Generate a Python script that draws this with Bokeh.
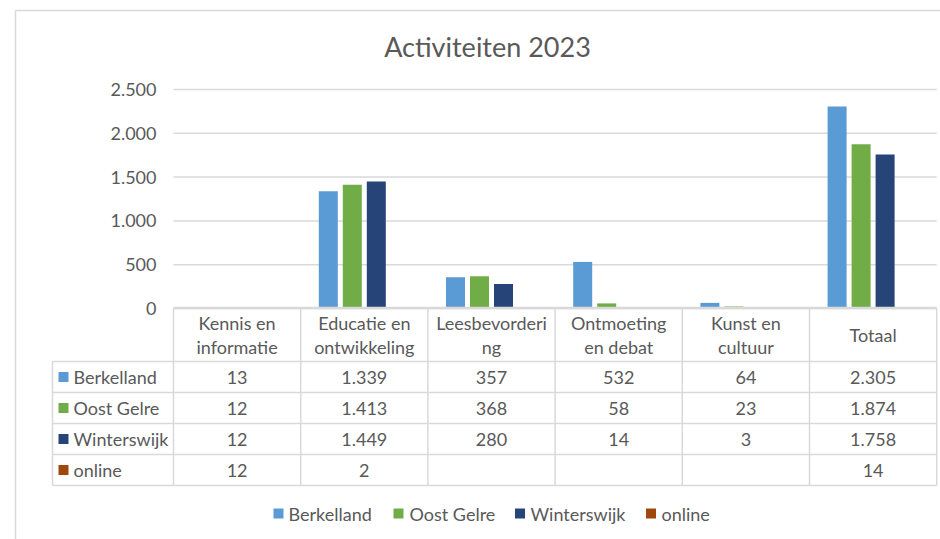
import math
from bokeh.plotting import figure
from bokeh.models import Range1d
from bokeh.embed import file_html
from bokeh.resources import INLINE
from bokeh.core.properties import value

# ---------------- data ----------------
title = "Activiteiten 2023"
categories = ["Kennis en informatie", "Educatie en ontwikkeling", "Leesbevordering",
              "Ontmoeting en debat", "Kunst en cultuur", "Totaal"]
header_labels = ["Kennis en\ninformatie", "Educatie en\nontwikkeling", "Leesbevorderi\nng",
                 "Ontmoeting\nen debat", "Kunst en\ncultuur", "Totaal"]
series_names = ["Berkelland", "Oost Gelre", "Winterswijk", "online"]
berkelland = [13, 1339, 357, 532, 64, 2305]
oost_gelre = [12, 1413, 368, 58, 23, 1874]
winterswijk = [12, 1449, 280, 14, 3, 1758]
online = [12, 2, None, None, None, 14]
y_ticks = [0, 500, 1000, 1500, 2000, 2500]
colors = ["#5B9BD5", "#70AD47", "#264478", "#9E480E"]

series_values = [berkelland, oost_gelre, winterswijk, online]

# ---------------- layout ----------------
W, H = 940, 539
M = 0                     # canvas offset on the page
PX0 = 173                 # page x of the first category boundary
SX = 127.2                # pixels per category
Y0 = 308                  # page y of value 0
KY = 219.0 / 2500.0       # pixels per unit
TEXT = "#595959"
GRID = "#D9D9D9"
FONT = value("Lato")

def nl(v):
    return f"{v:,}".replace(",", ".")

p = figure(width=W, height=H,
           x_range=Range1d((M - PX0) / SX, (M + W - PX0) / SX),
           y_range=Range1d(-(M + H - Y0) / KY, (Y0 - M) / KY),
           x_axis_location=None, y_axis_location=None,
           toolbar_location=None, output_backend="svg",
           min_border=0, outline_line_color=None)
p.grid.visible = False
p.background_fill_color = "white"
p.border_fill_color = "white"
p.extra_x_ranges = {"px": Range1d(M, M + W)}
p.extra_y_ranges = {"px": Range1d(M + H, M)}

ncat = len(categories)

# chart area border
p.segment(x0=[15, 15], y0=[10, 10], x1=[M + W, 15], y1=[10, M + H],
          x_range_name="px", y_range_name="px", line_color=GRID, line_width=1.5)

# title
p.text(x=[487], y=[46], text=[title], x_range_name="px", y_range_name="px",
       text_font=FONT, text_font_size="27px", text_color=TEXT,
       text_align="center", text_baseline="middle")

# gridlines
p.segment(x0=[0] * len(y_ticks), x1=[ncat] * len(y_ticks), y0=y_ticks, y1=y_ticks,
          line_color=GRID, line_width=1.5)

# y tick labels
p.text(x=[156] * len(y_ticks), y=y_ticks, text=[nl(t) for t in y_ticks],
       x_range_name="px", text_font=FONT, text_font_size="18px", text_color=TEXT,
       text_align="right", text_baseline="middle")

# bars
pitch = 24 / SX
bw = 19 / SX
nser = len(series_values)
for j, (vals, col) in enumerate(zip(series_values, colors)):
    off = (j - (nser - 1) / 2) * pitch
    xs = [i + 0.5 + off for i in range(ncat)]
    tops = [v if v is not None else math.nan for v in vals]
    p.vbar(x=xs, top=tops, bottom=0, width=bw, fill_color=col, line_color=None)

# data table
row_edges = [361, 392, 423, 454, 485]
row_centers = [(a + b) / 2 for a, b in zip(row_edges[:-1], row_edges[1:])]
xL = (52 - PX0) / SX

# vertical lines
p.segment(x0=list(range(ncat + 1)), x1=list(range(ncat + 1)),
          y0=[Y0] * (ncat + 1), y1=[row_edges[-1]] * (ncat + 1),
          y_range_name="px", line_color=GRID, line_width=1.5)
p.segment(x0=[xL], x1=[xL], y0=[row_edges[0]], y1=[row_edges[-1]],
          y_range_name="px", line_color=GRID, line_width=1.5)
# horizontal lines
p.segment(x0=[xL] * len(row_edges), x1=[ncat] * len(row_edges),
          y0=row_edges, y1=row_edges, y_range_name="px", line_color=GRID, line_width=1.5)
p.segment(x0=[0], x1=[ncat], y0=[Y0 - 0.5], y1=[Y0 - 0.5], y_range_name="px",
          line_color=GRID, line_width=2.5)

# header
p.text(x=[i + 0.5 for i in range(ncat)], y=[(Y0 + row_edges[0]) / 2] * ncat,
       text=header_labels, y_range_name="px", text_font=FONT, text_font_size="18px",
       text_color=TEXT, text_align="center", text_baseline="middle", text_line_height=1.05)

# values
for vals, yc in zip(series_values, row_centers):
    xs = [i + 0.5 for i, v in enumerate(vals) if v is not None]
    ts = [nl(v) for v in vals if v is not None]
    p.text(x=xs, y=[yc] * len(xs), text=ts, y_range_name="px", text_font=FONT,
           text_font_size="18px", text_color=TEXT, text_align="center",
           text_baseline="middle")

# row labels with colour keys
p.scatter(x=[63] * nser, y=row_centers, marker="square", size=10, fill_color=colors,
          line_color=None, x_range_name="px", y_range_name="px")
p.text(x=[73] * nser, y=row_centers, text=series_names, x_range_name="px",
       y_range_name="px", text_font=FONT, text_font_size="18px", text_color=TEXT,
       text_align="left", text_baseline="middle")

# legend
leg_sq = [278, 398, 519.5, 650.5]
leg_tx = [288, 409, 530, 661]
p.scatter(x=leg_sq, y=[513] * nser, marker="square", size=10, fill_color=colors,
          line_color=None, x_range_name="px", y_range_name="px")
p.text(x=leg_tx, y=[513] * nser, text=series_names, x_range_name="px", y_range_name="px",
       text_font=FONT, text_font_size="18px", text_color=TEXT, text_align="left",
       text_baseline="middle")

open("out.html", "w").write(file_html(p, INLINE))
